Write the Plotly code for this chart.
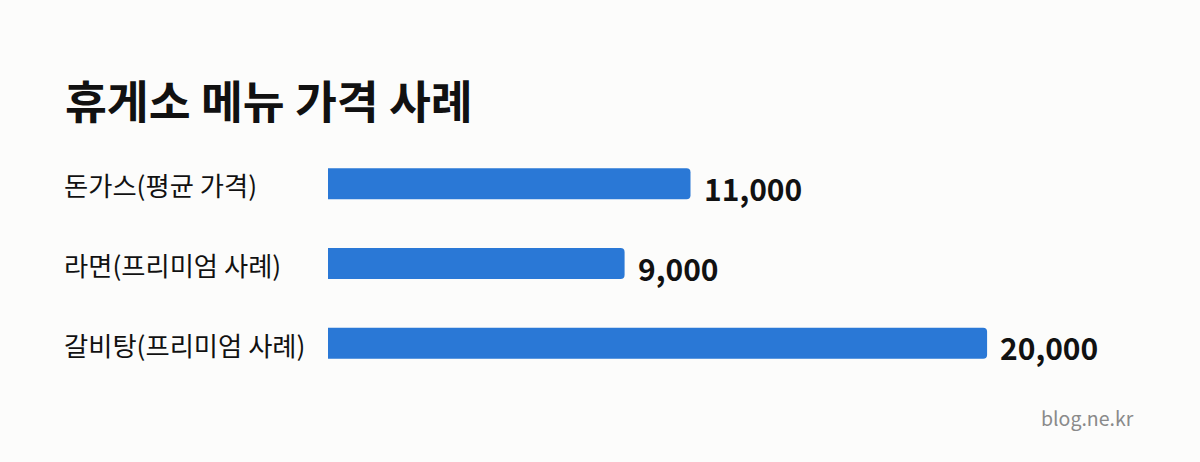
import plotly.graph_objects as go

categories = ["돈가스(평균 가격)", "라면(프리미엄 사례)", "갈비탕(프리미엄 사례)"]
prices = [11000, 9000, 20000]
title_text = "휴게소 메뉴 가격 사례"
source_text = "blog.ne.kr"

FONT = "Noto Sans CJK KR"
BG = "#fcfcfb"
BAR = "#2a78d6"
INK = "#111111"

W, H = 1200, 462
ML, MR, MT, MB = 328, 147, 143.5, 78.5
PW = W - ML - MR
PH = H - MT - MB

fig = go.Figure()
fig.add_trace(go.Bar(
    y=categories, x=prices, orientation="h",
    marker=dict(color=BAR, line=dict(width=0)),
    width=0.39, hoverinfo="skip",
))

# value labels
for c, v in zip(categories, prices):
    fig.add_annotation(
        x=v, y=c, xref="x", yref="y", text=f"<b>{v:,}</b>",
        showarrow=False, xanchor="left", yanchor="middle",
        xshift=11, yshift=-4,
        font=dict(family=FONT, size=30, color=INK),
    )

# category labels, left aligned
for c in categories:
    fig.add_annotation(
        x=(62 - ML) / PW, y=c, xref="paper", yref="y", text=c,
        showarrow=False, xanchor="left", yanchor="middle", yshift=-1,
        font=dict(family=FONT, size=26.3, color=INK),
    )

# title
fig.add_annotation(
    x=(63 - ML) / PW, y=1 + (MT - 98) / PH, xref="paper", yref="paper",
    text=f"<b>{title_text}</b>", showarrow=False, xanchor="left", yanchor="middle",
    font=dict(family=FONT, size=45.5, color=INK),
)

# source
fig.add_annotation(
    x=(1136 - ML) / PW, y=-(418 - (H - MB)) / PH, xref="paper", yref="paper",
    text=source_text, showarrow=False, xanchor="right", yanchor="middle",
    font=dict(family=FONT, size=19.5, color="#8a8a8a"),
)

fig.update_layout(
    width=W, height=H,
    margin=dict(l=ML, r=MR, t=MT, b=MB, pad=0),
    paper_bgcolor=BG, plot_bgcolor=BG,
    showlegend=False, barcornerradius=4,
    xaxis=dict(range=[0, 22000], visible=False, fixedrange=True),
    yaxis=dict(categoryorder="array", categoryarray=categories,
               range=[2.5, -0.5], autorange=False,
               showticklabels=False, showgrid=False, zeroline=False,
               ticks="", fixedrange=True),
)

fig.write_html(
    "out.html",
    config={"displayModeBar": False},
    post_script="document.body.style.margin='0';document.body.style.background='#fcfcfb';",
)
